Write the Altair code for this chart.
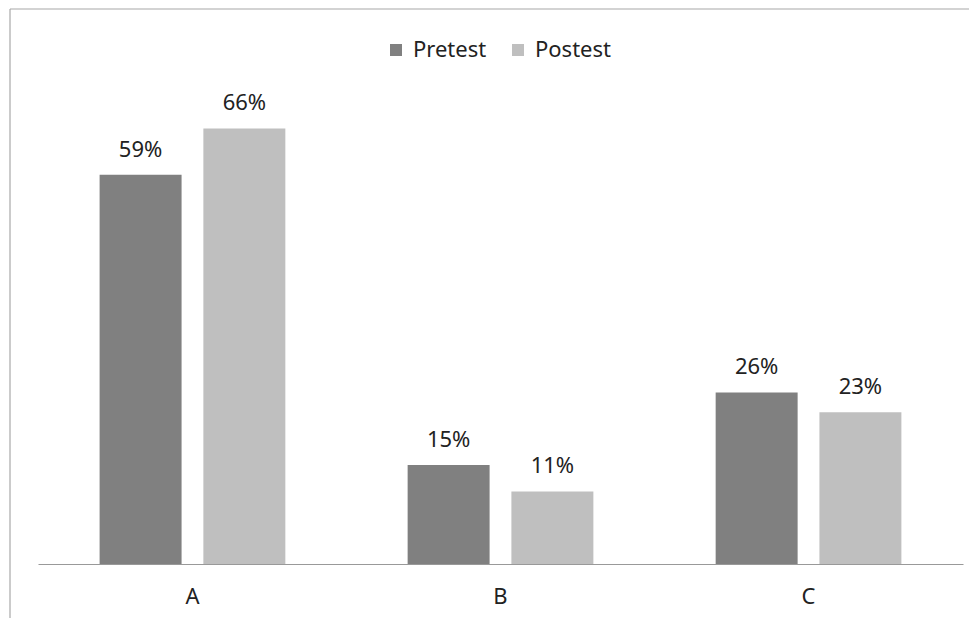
import altair as alt
import pandas as pd

categories = ["A", "B", "C"]
series = ["Pretest", "Postest"]
pretest = [59, 15, 26]
postest = [66, 11, 23]
colors = ["#808080", "#bfbfbf"]

rows = []
for i, c in enumerate(categories):
    rows.append({"cat": c, "series": "Pretest", "value": pretest[i], "label": f"{pretest[i]}%"})
    rows.append({"cat": c, "series": "Postest", "value": postest[i], "label": f"{postest[i]}%"})
df = pd.DataFrame(rows)

FONT = "Noto Sans"
VIEW_W = 959
VIEW_H = 609
BASE = 555
FRAME = "#a8a8a8"

x = alt.X("cat:N", sort=categories, title=None,
          scale=alt.Scale(range=[28, 953], paddingInner=0.397, paddingOuter=0.2),
          axis=alt.Axis(offset=-(VIEW_H - BASE), ticks=False, labelAngle=0,
                        labelPadding=22, labelFontSize=22, labelFont=FONT,
                        labelColor="#222222", domainColor="#999999", domainWidth=1.2))
xo = alt.XOffset("series:N", sort=series,
                 scale=alt.Scale(paddingInner=0.21, paddingOuter=0))
y = alt.Y("value:Q", axis=None,
          scale=alt.Scale(domain=[0, 84.1], range=[BASE, 0], nice=False, zero=True))
color = alt.Color("series:N", sort=series,
                  scale=alt.Scale(domain=series, range=colors),
                  legend=alt.Legend(orient="none", legendX=375, legendY=30,
                                    direction="horizontal", title=None,
                                    symbolType="square", symbolSize=144,
                                    symbolStrokeWidth=0, labelFontSize=22,
                                    labelFont=FONT, labelColor="#222222",
                                    labelOffset=6, columnPadding=20, padding=0))

base = alt.Chart(df)
bars = base.mark_bar().encode(x=x, xOffset=xo, y=y, color=color)
labels = base.mark_text(dy=-18, baseline="alphabetic", fontSize=22, font=FONT,
                        color="#222222").encode(x=x, xOffset=xo, y=y, text="label:N")

frame_df = pd.DataFrame({"k": [0]})
left_border = alt.Chart(frame_df).mark_rule(color=FRAME, strokeWidth=1.2).encode(
    x=alt.value(0), y=alt.value(0), y2=alt.value(VIEW_H))
top_border = alt.Chart(frame_df).mark_rule(color=FRAME, strokeWidth=1.2).encode(
    y=alt.value(0), x=alt.value(0), x2=alt.value(VIEW_W))

chart = (left_border + top_border + bars + labels).properties(
    width=VIEW_W, height=VIEW_H,
    autosize=alt.AutoSizeParams(type="none"),
    padding={"left": 2, "top": 1, "right": 0, "bottom": 0},
    background="white",
).configure_view(stroke=None)

chart.save("out.html", embed_options={"renderer": "svg", "actions": False})
